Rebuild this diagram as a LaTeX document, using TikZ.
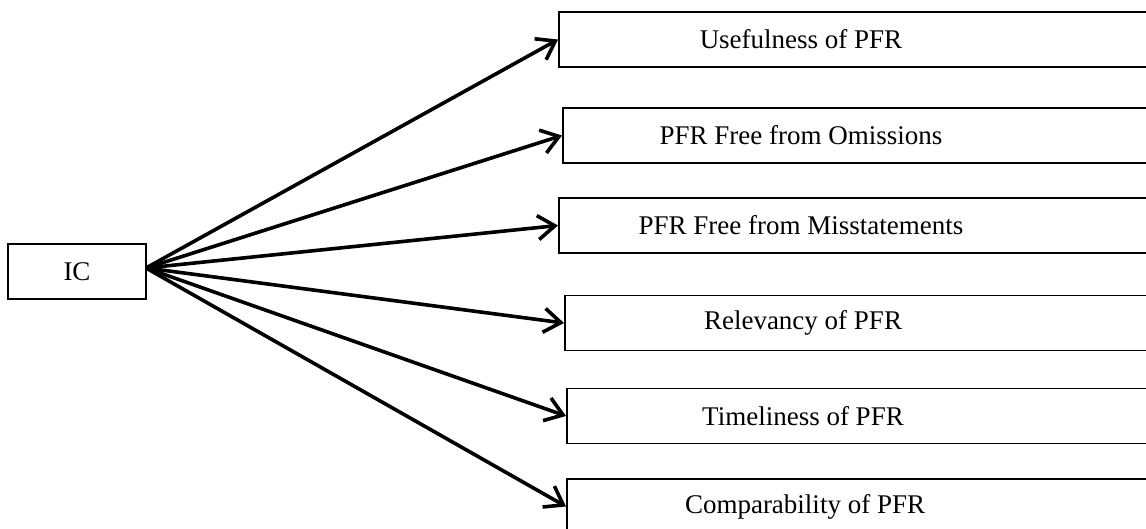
\documentclass[tikz,border=0pt]{standalone}
\usepackage{fontspec}
\setmainfont{Liberation Serif}
\usetikzlibrary{arrows.meta}
\begin{document}
\begin{tikzpicture}[x=1pt,y=-1pt,
  box/.style={draw, line width=1.6pt, minimum height=55pt, inner sep=0pt, anchor=west, minimum width=640pt},
  icbox/.style={draw, line width=1.6pt, minimum height=55pt, minimum width=138pt, inner sep=0pt},
  lbl/.style={inner sep=0pt, font=\fontsize{27}{30}\selectfont},
  arr/.style={line width=3.6pt, -{Straight Barb[length=17pt,width=24pt,line width=3.6pt]}}]
\useasboundingbox (0,0) rectangle (1146,529);
\node[icbox, font=\fontsize{27}{30}\selectfont] (ic) at (77,271.5) {IC};
\coordinate (o) at (146,268);
\node[box] (b1) at (558,39.5) {};
\node[box] (b2) at (562,135.5) {};
\node[box] (b3) at (558,225.5) {};
\node[box] (b4) at (564,323) {};
\node[box] (b5) at (566,416) {};
\node[box] (b6) at (566,506.5) {};
\node[lbl] (t1) at (801,39.5) {Usefulness of PFR};
\node[lbl] (t2) at (801,135.5) {PFR Free from Omissions};
\node[lbl] (t3) at (801,225.5) {PFR Free from Misstatements};
\node[lbl] (t4) at (803,323) {Relevancy of PFR};
\node[lbl] (t5) at (803,416) {Timeliness of PFR};
\node[lbl] (t6) at (805,506.5) {Comparability of PFR};
\foreach \b in {b1,b2,b3,b4,b5,b6}
  \draw[arr] (o) -- (\b.west);
\end{tikzpicture}
\end{document}
